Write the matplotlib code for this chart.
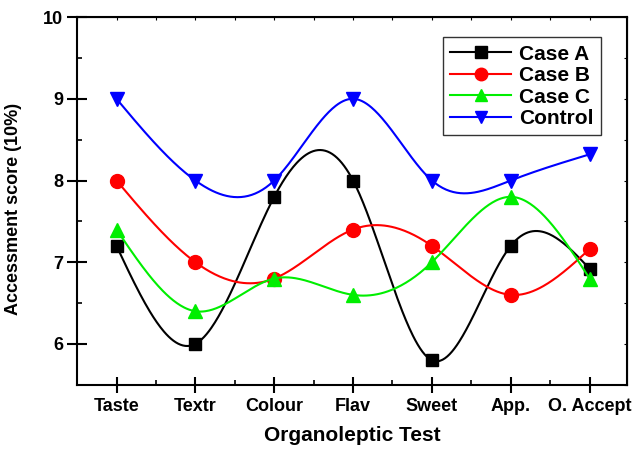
import numpy as np
import matplotlib
matplotlib.use('Agg')
import matplotlib.pyplot as plt
from matplotlib.ticker import MultipleLocator

plt.rcParams['font.family'] = ['Liberation Sans', 'DejaVu Sans']
plt.rcParams['font.weight'] = 'bold'

categories = ['Taste', 'Textr', 'Colour', 'Flav', 'Sweet', 'App.', 'O. Accept']
case_a = [7.2, 6.0, 7.8, 8.0, 5.8, 7.2, 6.92]
case_b = [8.0, 7.0, 6.8, 7.4, 7.2, 6.6, 7.16]
case_c = [7.4, 6.4, 6.8, 6.6, 7.0, 7.8, 6.8]
control = [9.0, 8.0, 8.0, 9.0, 8.0, 8.0, 8.32]


def natural_spline(x, y, n=400):
    # natural cubic spline through the points, numpy only
    x = np.asarray(x, float)
    y = np.asarray(y, float)
    k = len(x)
    h = np.diff(x)
    A = np.zeros((k, k))
    r = np.zeros(k)
    A[0, 0] = A[-1, -1] = 1
    for i in range(1, k - 1):
        A[i, i - 1] = h[i - 1]
        A[i, i] = 2 * (h[i - 1] + h[i])
        A[i, i + 1] = h[i]
        r[i] = 3 * ((y[i + 1] - y[i]) / h[i] - (y[i] - y[i - 1]) / h[i - 1])
    c = np.linalg.solve(A, r)
    b = np.zeros(k - 1)
    d = np.zeros(k - 1)
    for i in range(k - 1):
        b[i] = (y[i + 1] - y[i]) / h[i] - h[i] * (2 * c[i] + c[i + 1]) / 3
        d[i] = (c[i + 1] - c[i]) / (3 * h[i])
    xs = np.linspace(x[0], x[-1], n)
    idx = np.clip(np.searchsorted(x, xs) - 1, 0, k - 2)
    dx = xs - x[idx]
    ys = y[idx] + b[idx] * dx + c[idx] * dx ** 2 + d[idx] * dx ** 3
    return xs, ys


fig, ax = plt.subplots(figsize=(6.37, 4.5), dpi=100)
fig.subplots_adjust(left=0.121, right=0.985, top=0.962, bottom=0.145)

xpos = np.arange(len(categories))
series = [('Case A', case_a, 'black', 's', 9),
          ('Case B', case_b, 'red', 'o', 10),
          ('Case C', case_c, '#00ee00', '^', 10),
          ('Control', control, 'blue', 'v', 10)]

for name, vals, col, mk, ms in series:
    xs, ys = natural_spline(xpos, vals)
    ax.plot(xs, ys, color=col, lw=1.5)
    ax.plot(xpos, vals, linestyle='none', marker=mk, color=col, markersize=ms)
    ax.plot([], [], color=col, marker=mk, markersize=ms - 1, lw=1.5, label=name)

ax.set_xlim(-0.5, 6.48)
ax.set_ylim(5.5, 10)
ax.set_xticks(xpos)
ax.set_xticklabels(categories, fontsize=13, fontweight='bold')
ax.xaxis.set_minor_locator(MultipleLocator(0.5))
ax.yaxis.set_minor_locator(MultipleLocator(0.5))
ax.set_yticks([6, 7, 8, 9, 10])
ax.set_yticklabels(['6', '7', '8', '9', '10'], fontsize=13, fontweight='bold')

ax.tick_params(axis='y', which='major', direction='inout', length=14, width=1.5, pad=3)
ax.tick_params(axis='x', which='major', direction='inout', length=11, width=1.5, pad=4)
ax.tick_params(which='minor', direction='in', length=3.5, width=1.2)
for s in ax.spines.values():
    s.set_linewidth(1.5)

# small ticks on the top and right frame
top = ax.secondary_xaxis('top')
top.set_xticks(np.arange(-0.5, 6.6, 0.5))
top.tick_params(direction='in', length=2, width=0.8, labeltop=False)
right = ax.secondary_yaxis('right')
right.set_yticks(np.arange(5.5, 10.01, 0.5))
right.tick_params(direction='in', length=2, width=0.8, labelright=False)

ax.set_xlabel('Organoleptic Test', fontsize=15, fontweight='bold', labelpad=8)
ax.set_ylabel('Accessment score (10%)', fontsize=13, fontweight='bold', labelpad=4)
ax.yaxis.set_label_coords(-0.1, 0.478)

leg = ax.legend(loc='upper right', bbox_to_anchor=(0.952, 0.945),
                frameon=True, fancybox=False, edgecolor='black',
                handlelength=2.9, handletextpad=0.4, borderpad=0.35,
                labelspacing=0.12, borderaxespad=0,
                prop={'weight': 'bold', 'size': 15})
leg.get_frame().set_linewidth(1.0)

fig.savefig('out.png', dpi=100)
